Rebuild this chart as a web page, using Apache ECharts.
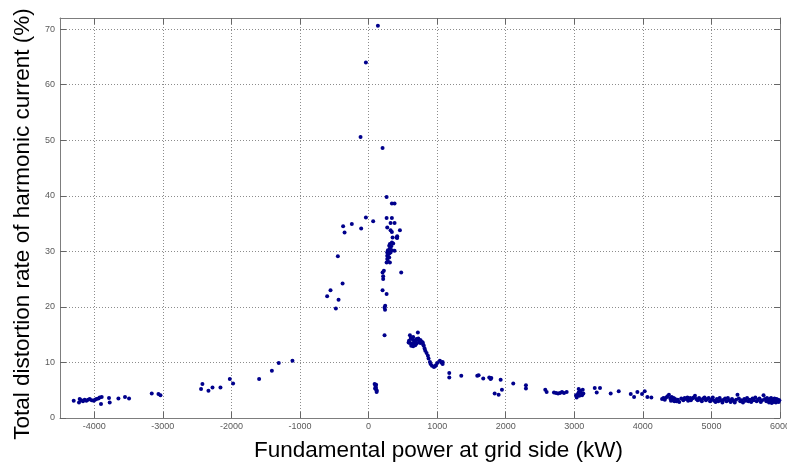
<!DOCTYPE html>
<html>
<head>
<meta charset="utf-8">
<script src="https://cdn.jsdelivr.net/npm/echarts@6/dist/echarts.min.js"></script>
<style>
  html, body { margin: 0; padding: 0; background: #ffffff; }
  #chart { width: 787px; height: 466px; }
</style>
</head>
<body>
<div id="chart"></div>
<script>
// Power axis ticks (kW) and THD axis ticks (%)
const powerTicks = [-4000, -3000, -2000, -1000, 0, 1000, 2000, 3000, 4000, 5000, 6000];
const thdTicks = [0, 10, 20, 30, 40, 50, 60, 70];

// [fundamental power (kW), current THD (%)] — absorbing power from the grid
const negativePower = [
  [-4300, 3.1], [-4223, 2.8], [-4213, 3.4], [-4190, 3.2], [-4165, 3.0], [-4140, 3.3],
  [-4115, 3.1], [-4090, 3.3], [-4067, 3.4], [-4038, 3.2], [-4008, 3.1], [-3990, 3.3],
  [-3969, 3.4], [-3940, 3.5], [-3921, 3.7], [-3892, 3.8], [-3902, 2.5], [-3785, 3.6],
  [-3775, 2.8], [-3648, 3.5], [-3552, 3.8], [-3493, 3.5],
  [-3162, 4.4], [-3064, 4.3], [-3035, 4.1],
  [-2443, 5.2], [-2423, 6.1], [-2335, 4.9], [-2276, 5.5], [-2160, 5.5],
  [-2024, 7.0], [-1976, 6.2], [-1596, 7.0], [-1410, 8.5], [-1310, 9.9], [-1110, 10.3]
];

// Low-power operation around zero, where distortion is highest
const lowPower = [
  [-604, 21.9], [-555, 23.0], [-477, 19.7], [-448, 29.1], [-438, 21.3], [-379, 24.2],
  [-371, 34.5], [-350, 33.4], [-244, 34.9], [-108, 34.1], [-39, 36.1], [67, 35.4],
  [136, 70.6], [-39, 64.0], [-117, 50.6], [204, 48.6],
  [88, 6.1], [95, 5.3], [100, 5.8], [107, 5.5], [110, 6.0], [112, 5.1], [117, 4.7], [120, 4.9],
  [263, 39.8], [340, 38.6], [379, 38.6],
  [263, 36.0], [340, 36.0], [321, 35.1], [379, 35.1], [272, 34.3], [321, 33.8],
  [340, 33.5], [457, 33.8], [350, 32.5], [417, 32.7], [417, 32.4], [408, 32.5],
  [340, 31.6], [359, 31.4], [311, 31.3], [301, 31.0], [330, 30.9], [311, 30.5],
  [282, 30.2], [340, 30.2], [379, 30.1], [272, 29.8], [301, 29.6], [321, 29.8],
  [272, 29.2], [282, 29.1], [301, 28.9], [272, 28.6], [282, 28.2], [263, 28.0],
  [311, 28.0], [476, 26.2], [204, 26.2], [223, 26.5], [213, 25.5], [213, 25.0],
  [204, 23.0], [263, 22.3], [242, 20.2], [233, 19.9], [240, 19.5], [233, 14.9]
];

// Recovery region: distortion falls as output rises past ~600 kW
const midPower = [
  [603, 14.9], [719, 15.4], [584, 13.6], [590, 13.9], [603, 13.5], [615, 14.4],
  [622, 13.0], [632, 14.2], [632, 13.4], [640, 13.2], [651, 12.9], [651, 13.4],
  [650, 14.6], [661, 14.0], [671, 13.8], [681, 13.1], [690, 13.7], [700, 14.2],
  [700, 13.4], [710, 14.1], [725, 14.3], [739, 13.6], [749, 14.0], [759, 14.0],
  [760, 13.5], [778, 13.7], [790, 13.6], [797, 13.2], [805, 13.0], [817, 12.5],
  [827, 12.1], [846, 11.7], [865, 11.2], [875, 10.7], [895, 10.1], [905, 9.7],
  [924, 9.4], [953, 9.2], [970, 9.3], [982, 9.5], [1001, 9.9], [1040, 10.3],
  [1060, 10.0], [1080, 10.1], [1080, 9.7],
  [1177, 8.1], [1177, 7.3], [1352, 7.6], [1585, 7.6], [1605, 7.7], [1672, 7.1],
  [1760, 7.3], [1790, 7.2], [1780, 7.0], [1926, 6.9], [1839, 4.4], [1897, 4.2],
  [1945, 5.1], [2110, 6.2], [2295, 5.9], [2295, 5.3],
  [2577, 5.1], [2597, 4.7], [2704, 4.6], [2734, 4.5], [2763, 4.4], [2792, 4.5],
  [2821, 4.7], [2850, 4.5], [2889, 4.7],
  [3025, 4.1], [3035, 3.7], [3045, 4.1], [3055, 4.3], [3064, 5.2], [3064, 4.6],
  [3074, 4.0], [3084, 4.9], [3093, 4.6], [3113, 4.1], [3123, 5.1], [3132, 4.4],
  [3298, 5.4], [3375, 5.4], [3327, 4.6], [3531, 4.4], [3648, 4.8],
  [3823, 4.3], [3872, 3.8], [3920, 4.7], [3988, 4.3], [4027, 4.8], [4066, 3.8], [4124, 3.7]
];

// High-power operation: distortion settles to roughly 3 %
const highPower = [
  [4280, 3.4], [4300, 3.6], [4320, 3.3], [4340, 3.7], [4360, 3.9], [4380, 4.2],
  [4400, 3.5], [4410, 3.1], [4420, 3.8], [4430, 3.2], [4450, 3.6], [4460, 3.0],
  [4470, 3.4], [4490, 3.0], [4510, 3.3], [4530, 2.9], [4560, 3.5], [4590, 3.2],
  [4610, 3.6], [4630, 3.4], [4650, 3.7], [4660, 3.1], [4670, 3.3], [4690, 3.6],
  [4700, 3.2], [4720, 3.5], [4740, 3.7], [4760, 4.0], [4780, 3.4], [4800, 3.2],
  [4820, 3.6], [4840, 3.3], [4860, 3.0], [4880, 3.5], [4900, 3.7], [4920, 3.2],
  [4940, 3.4], [4960, 3.6], [4980, 3.0], [5000, 3.3], [5020, 3.7], [5040, 3.1],
  [5060, 2.9], [5080, 3.4], [5100, 3.0], [5120, 3.6], [5140, 3.2], [5160, 2.8],
  [5180, 3.3], [5200, 3.5], [5220, 3.0], [5240, 3.6], [5260, 3.2], [5280, 2.9],
  [5300, 3.4], [5320, 3.1], [5340, 2.8], [5360, 3.3], [5380, 4.2], [5400, 3.5],
  [5420, 3.0], [5440, 3.2], [5460, 2.8], [5480, 3.4], [5500, 3.1], [5520, 3.6],
  [5540, 3.0], [5560, 3.3], [5580, 2.9], [5600, 3.5], [5620, 3.2], [5640, 3.7],
  [5660, 3.0], [5680, 3.3], [5700, 3.5], [5720, 2.9], [5740, 3.2], [5760, 4.1],
  [5780, 3.4], [5800, 3.0], [5810, 3.6], [5830, 3.2], [5840, 2.8], [5850, 3.4],
  [5860, 3.0], [5870, 3.6], [5880, 2.7], [5890, 3.3], [5900, 3.1], [5910, 2.9],
  [5920, 3.5], [5930, 3.2], [5940, 2.8], [5950, 3.4], [5960, 3.0], [5970, 3.3],
  [5980, 2.9], [5990, 3.2]
];

const FONT = 'Liberation Sans, Arial, Helvetica, sans-serif';
const frameColor = '#7d7d7d';
const gridColor = '#8c8c8c';
const plainNumber = v => String(v);
const tickLabel = { fontSize: 9, color: '#5a5a5a', fontFamily: FONT, formatter: plainNumber };

const chart = echarts.init(document.getElementById('chart'), null, { renderer: 'canvas' });

chart.setOption({
  animation: false,
  backgroundColor: '#ffffff',
  grid: { left: 60, right: 7, top: 18, bottom: 48, containLabel: false, outerBoundsMode: 'none' },
  xAxis: [
    {
      type: 'value', min: -4500, max: 6000, position: 'bottom',
      name: 'Fundamental power at grid side (kW)',
      nameLocation: 'middle', nameGap: 21,
      nameTextStyle: { fontSize: 22.5, color: '#000', fontFamily: FONT, padding: [0, 0, 0, 37] },
      axisLine: { show: true, onZero: false, lineStyle: { color: frameColor, width: 1 } },
      axisTick: { show: true, inside: true, length: 6, customValues: powerTicks, lineStyle: { color: '#666' } },
      axisLabel: Object.assign({ customValues: powerTicks, margin: 4, hideOverlap: false }, tickLabel),
      splitLine: { show: true, lineStyle: { color: gridColor, width: 1, type: [1, 2] } }
    },
    {
      type: 'value', min: -4500, max: 6000, position: 'top',
      axisLine: { show: true, onZero: false, lineStyle: { color: frameColor, width: 1 } },
      axisTick: { show: true, inside: true, length: 6, customValues: powerTicks, lineStyle: { color: '#666' } },
      axisLabel: { show: false },
      splitLine: { show: false }
    }
  ],
  yAxis: [
    {
      type: 'value', min: 0, max: 72, interval: 10, position: 'left',
      name: 'Total distortion rate of harmonic current (%)',
      nameLocation: 'middle', nameGap: 26, nameRotate: 90,
      nameTextStyle: { fontSize: 22.5, color: '#000', fontFamily: FONT, padding: [0, 12, 0, 0] },
      axisLine: { show: true, onZero: false, lineStyle: { color: frameColor, width: 1 } },
      axisTick: { show: true, inside: true, length: 6, customValues: thdTicks, lineStyle: { color: '#666' } },
      axisLabel: Object.assign({ customValues: thdTicks, margin: 5 }, tickLabel),
      splitLine: { show: true, lineStyle: { color: gridColor, width: 1, type: [1, 2] } }
    },
    {
      type: 'value', min: 0, max: 72, interval: 10, position: 'right',
      axisLine: { show: true, onZero: false, lineStyle: { color: frameColor, width: 1 } },
      axisTick: { show: true, inside: true, length: 6, customValues: thdTicks, lineStyle: { color: '#666' } },
      axisLabel: { show: false },
      splitLine: { show: false }
    }
  ],
  series: [
    {
      type: 'scatter',
      xAxisIndex: 0, yAxisIndex: 0,
      symbol: 'circle', symbolSize: 4,
      itemStyle: { color: '#00008c', opacity: 1 },
      data: [].concat(negativePower, lowPower, midPower, highPower)
    }
  ]
});
</script>
</body>
</html>
